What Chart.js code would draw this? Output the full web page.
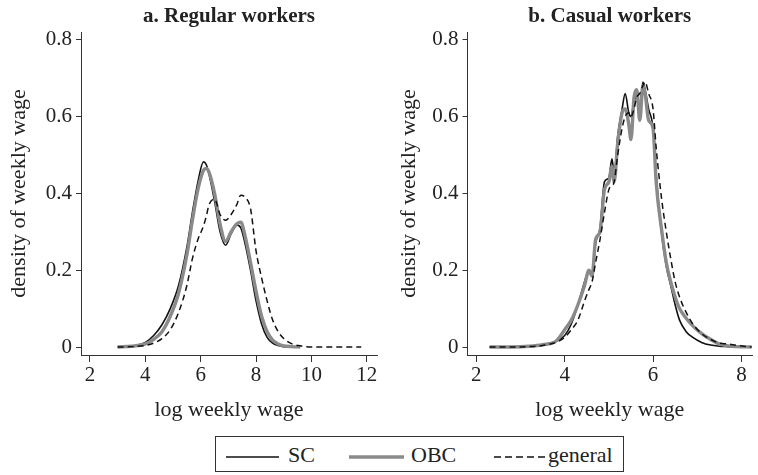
<!DOCTYPE html>
<html><head><meta charset="utf-8">
<script src="https://cdn.jsdelivr.net/npm/chart.js@4"></script>
<style>
html,body{margin:0;padding:0;background:#fff;width:758px;height:475px;overflow:hidden;position:relative;}
#a{position:absolute;left:0;top:0;}
#b{position:absolute;left:390px;top:0;}
#legend{position:absolute;left:215px;top:436px;width:407px;height:34px;border:1px solid #333;font-family:'Liberation Serif',serif;font-size:22px;color:#222;}
#legend span{position:absolute;top:7px;line-height:22px;white-space:nowrap;}
#legend svg{position:absolute;left:0;top:0;}
</style></head>
<body>
<canvas id="a" width="390" height="430"></canvas>
<canvas id="b" width="368" height="430"></canvas>
<div id="legend">
  <svg width="407" height="34">
    <line x1="10" y1="20" x2="63" y2="20" stroke="#111" stroke-width="1.6"/>
    <line x1="133" y1="20" x2="188" y2="20" stroke="#8a8a8a" stroke-width="3.6"/>
    <line x1="278" y1="20" x2="330" y2="20" stroke="#111" stroke-width="1.5" stroke-dasharray="7 4"/>
  </svg>
  <span id="l0" style="left:72px"></span>
  <span id="l1" style="left:195px"></span>
  <span id="l2" style="left:332px"></span>
</div>
<script>
// ---- data ----
const categories = ['SC', 'OBC', 'general'];
const panelTitles = ['a. Regular workers', 'b. Casual workers'];
const xAxisTitle = 'log weekly wage';
const yAxisTitle = 'density of weekly wage';

const yTicks = [0, 0.2, 0.4, 0.6, 0.8];
const yTickLabels = ['0', '0.2', '0.4', '0.6', '0.8'];
const regXTicks = [2, 4, 6, 8, 10, 12];
const casXTicks = [2, 4, 6, 8];

// a. Regular workers
const regX = [3.0, 3.5, 4.0, 4.3, 4.6, 4.9, 5.2, 5.5, 5.7, 5.9, 6.1, 6.2, 6.3, 6.5, 6.7, 6.9, 7.1, 7.3, 7.45, 7.6, 7.8, 8.0, 8.2, 8.4, 8.6, 8.8, 9.0, 9.3, 9.6, 10.0, 11.0, 11.8];
const regSC = [0, 0.002, 0.012, 0.03, 0.058, 0.10, 0.16, 0.26, 0.35, 0.43, 0.482, 0.475, 0.45, 0.38, 0.30, 0.265, 0.295, 0.318, 0.31, 0.27, 0.20, 0.12, 0.06, 0.025, 0.01, 0.004, 0.001, 0, null, null, null, null];
const regOBC = [0, 0.002, 0.008, 0.02, 0.04, 0.08, 0.14, 0.24, 0.33, 0.41, 0.46, 0.465, 0.455, 0.40, 0.32, 0.275, 0.30, 0.32, 0.325, 0.29, 0.22, 0.145, 0.08, 0.04, 0.018, 0.008, 0.003, 0.001, 0, null, null, null];
const regGeneral = [0, 0.001, 0.004, 0.01, 0.022, 0.045, 0.09, 0.16, 0.23, 0.28, 0.315, 0.34, 0.37, 0.385, 0.345, 0.33, 0.345, 0.37, 0.395, 0.39, 0.36, 0.25, 0.18, 0.12, 0.07, 0.04, 0.022, 0.008, 0.003, 0, 0, 0];

// b. Casual workers
const casX = [2.3, 2.8, 3.2, 3.5, 3.8, 4.0, 4.15, 4.3, 4.45, 4.55, 4.62, 4.7, 4.8, 4.9, 5.0, 5.07, 5.12, 5.2, 5.3, 5.37, 5.45, 5.5, 5.57, 5.63, 5.7, 5.77, 5.82, 5.9, 6.0, 6.07, 6.2, 6.3, 6.4, 6.5, 6.6, 6.75, 6.9, 7.1, 7.3, 7.5, 7.7, 7.9, 8.23];
const casSC = [0, 0, 0.002, 0.006, 0.015, 0.03, 0.06, 0.11, 0.17, 0.20, 0.19, 0.27, 0.31, 0.43, 0.44, 0.49, 0.45, 0.55, 0.62, 0.66, 0.61, 0.60, 0.64, 0.65, 0.62, 0.69, 0.67, 0.62, 0.57, 0.45, 0.29, 0.21, 0.16, 0.11, 0.07, 0.04, 0.025, 0.012, 0.005, 0.002, 0.001, 0, 0];
const casOBC = [0, 0, 0.002, 0.006, 0.015, 0.045, 0.07, 0.11, 0.16, 0.20, 0.185, 0.28, 0.30, 0.41, 0.43, 0.47, 0.43, 0.53, 0.61, 0.62, 0.58, 0.54, 0.65, 0.67, 0.59, 0.68, 0.66, 0.59, 0.57, 0.43, 0.30, 0.22, 0.17, 0.13, 0.10, 0.075, 0.055, 0.035, 0.02, 0.008, 0.003, 0.001, 0];
const casGeneral = [0, 0, 0.001, 0.004, 0.012, 0.025, 0.045, 0.07, 0.12, 0.15, 0.17, 0.22, 0.28, 0.35, 0.41, 0.42, 0.43, 0.50, 0.57, 0.60, 0.61, 0.60, 0.62, 0.65, 0.66, 0.68, 0.69, 0.66, 0.62, 0.52, 0.38, 0.30, 0.23, 0.17, 0.13, 0.09, 0.06, 0.035, 0.02, 0.01, 0.008, 0.004, 0];

// ---- rendering ----
const FONT = "'Liberation Serif', 'Times New Roman', serif";
const TEXT = '#222';
Chart.defaults.font.family = FONT;
Chart.defaults.color = TEXT;

document.getElementById('l0').textContent = categories[0];
document.getElementById('l1').textContent = categories[1];
document.getElementById('l2').textContent = categories[2];

function pts(xs, ys) {
  const out = [];
  xs.forEach((x, i) => { if (ys[i] !== null && ys[i] !== undefined) out.push({x: x, y: ys[i]}); });
  return out;
}

const styles = [
  {borderColor: '#111', borderWidth: 1.6, borderDash: [], order: 2},
  {borderColor: '#8a8a8a', borderWidth: 3.4, borderDash: [], order: 1},
  {borderColor: '#111', borderWidth: 1.5, borderDash: [6, 4], order: 0}
];

function makeChart(id, title, xs, series, xTicks, xMin, xMax, yWidth, padRight) {
  return new Chart(document.getElementById(id), {
    type: 'line',
    data: {
      datasets: series.map((ys, k) => Object.assign({
        label: categories[k],
        data: pts(xs, ys),
        pointRadius: 0,
        fill: false,
        cubicInterpolationMode: 'monotone'
      }, styles[k]))
    },
    options: {
      responsive: false,
      animation: false,
      events: [],
      layout: {padding: {left: 0, right: padRight, top: 0, bottom: 0}},
      plugins: {
        legend: {display: false},
        tooltip: {enabled: false},
        title: {
          display: true, text: title, fullSize: false, color: TEXT,
          font: {family: FONT, size: 21, weight: 'bold'},
          padding: {top: 4, bottom: 2.8}
        }
      },
      scales: {
        x: {
          type: 'linear', min: xMin, max: xMax,
          afterBuildTicks: s => { s.ticks = xTicks.map(v => ({value: v})); },
          afterFit: s => { s.height = 75; s.paddingLeft = 0; s.paddingRight = 0; },
          ticks: {autoSkip: false, maxRotation: 0, padding: 1, color: TEXT, font: {size: 21},
                  callback: v => String(v)},
          grid: {drawOnChartArea: false, drawTicks: true, tickLength: 7, color: '#333', lineWidth: 1},
          border: {display: true, color: '#333', width: 1},
          title: {display: true, text: xAxisTitle, color: TEXT, font: {size: 22}, padding: {top: 0, bottom: 7}}
        },
        y: {
          type: 'linear', min: -0.0208, max: 0.82,
          afterBuildTicks: s => { s.ticks = yTicks.map(v => ({value: v})); },
          afterFit: s => { s.width = yWidth; s.paddingTop = 0; s.paddingBottom = 0; },
          ticks: {autoSkip: false, padding: 4, color: TEXT, font: {size: 21},
                  callback: (v, i) => yTickLabels[i]},
          grid: {drawOnChartArea: false, drawTicks: true, tickLength: 5, color: '#333', lineWidth: 1},
          border: {display: true, color: '#333', width: 1},
          title: {display: true, text: yAxisTitle, color: TEXT, font: {size: 22}, padding: {top: 6, bottom: 0}}
        }
      }
    }
  });
}

makeChart('a', panelTitles[0], regX, [regSC, regOBC, regGeneral], regXTicks, 1.675, 12.37, 81, 13);
makeChart('b', panelTitles[1], casX, [casSC, casOBC, casGeneral], casXTicks, 1.80, 8.24, 77.5, 6);
</script>
</body></html>
